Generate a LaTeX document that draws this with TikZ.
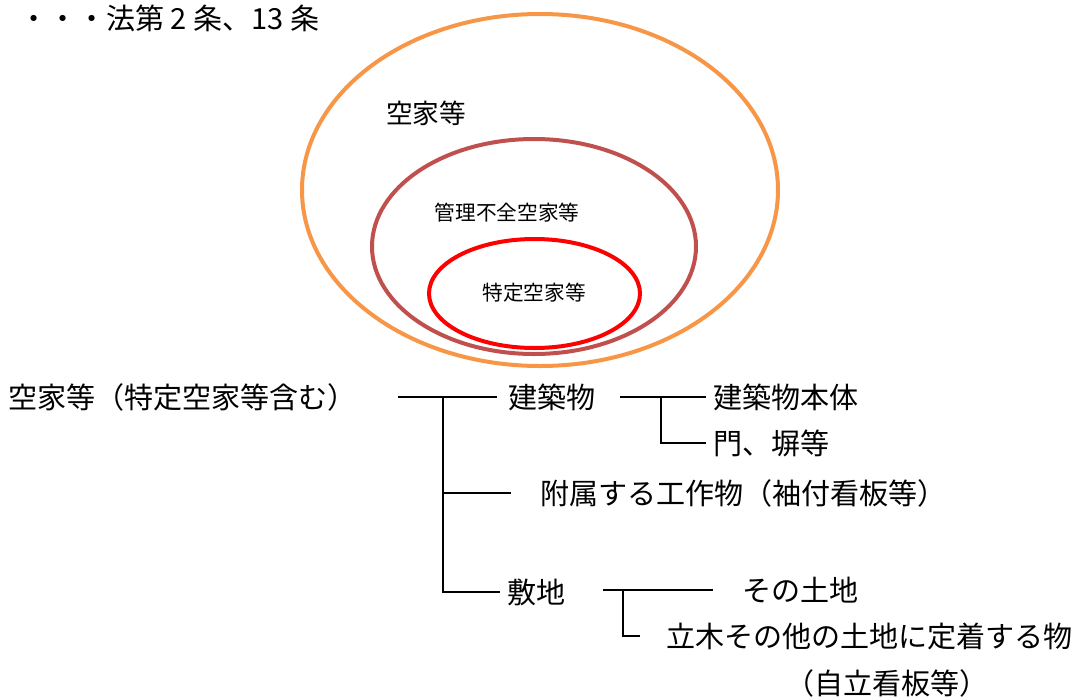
\documentclass[tikz,border=0pt]{standalone}
\usepackage{fontspec}
\setmainfont{Noto Sans CJK JP}
\definecolor{ringorange}{HTML}{F79646}
\definecolor{ringbrown}{HTML}{C0504D}
\definecolor{ringred}{HTML}{FF0000}

\begin{document}
\begin{tikzpicture}[x=0.75pt,y=-0.75pt,
	ring/.style={line width=3pt},
	txt/.style={anchor=west,inner sep=0,outer sep=0,font=\fontsize{21.8}{26}\selectfont},
	tag/.style={inner sep=0,outer sep=0,font=\fontsize{15.5}{18}\selectfont},
	branch/.style={line width=1.9pt}]
	\useasboundingbox (0,0) rectangle (1076,697);
	\node[txt] (law) at (19,18) {・・・法第 2 条、13 条};

	% nested rings
	\draw[ring,ringorange] (540,190) ellipse [x radius=238, y radius=176];
	\draw[ring,ringbrown] (534,246.5) ellipse [x radius=162, y radius=107.5];
	\draw[ring,ringred] (534.5,293.5) ellipse [x radius=105.5, y radius=54.5];
	\node[tag,font=\fontsize{20}{24}\selectfont] (vacant) at (426,113) {空家等};
	\node[tag] (poor) at (507,213) {管理不全空家等};
	\node[tag] (special) at (534,293) {特定空家等};

	% tree
	\node[txt] (root) at (8,397) {空家等（特定空家等含む）};
	\node[txt] (bldg) at (508,397) {建築物};
	\node[txt] (body) at (713,397) {建築物本体};
	\node[txt] (gate) at (713,443) {門、塀等};
	\node[txt] (annex) at (540,493) {附属する工作物（袖付看板等）};
	\node[txt] (site) at (507,592) {敷地};
	\node[txt] (land) at (742,590) {その土地};
	\node[txt] (fixture) at (666,636) {立木その他の土地に定着する物};
	\node[txt] (note) at (785,683) {（自立看板等）};

	\coordinate (t1) at (398,397);
	\coordinate (j1) at (443,397);
	\draw[branch,shorten >=8pt] (t1) -- (bldg.west);
	\draw[branch,shorten >=5pt] (j1) |- (site.west);
	\draw[branch,shorten >=22pt] (j1 |- annex.west) -- (annex.west);

	\coordinate (t2) at (620,397);
	\coordinate (j2) at (661,397);
	\draw[branch,shorten >=5pt] (t2) -- (body.west);
	\draw[branch,shorten >=5pt] (j2) |- (gate.west);

	\coordinate (t3) at (603,590);
	\coordinate (j3) at (623,590);
	\draw[branch,shorten >=21.75pt] (t3) -- (land.west);
	\draw[branch,shorten >=19.5pt] (j3) |- (fixture.west);
\end{tikzpicture}
\end{document}
